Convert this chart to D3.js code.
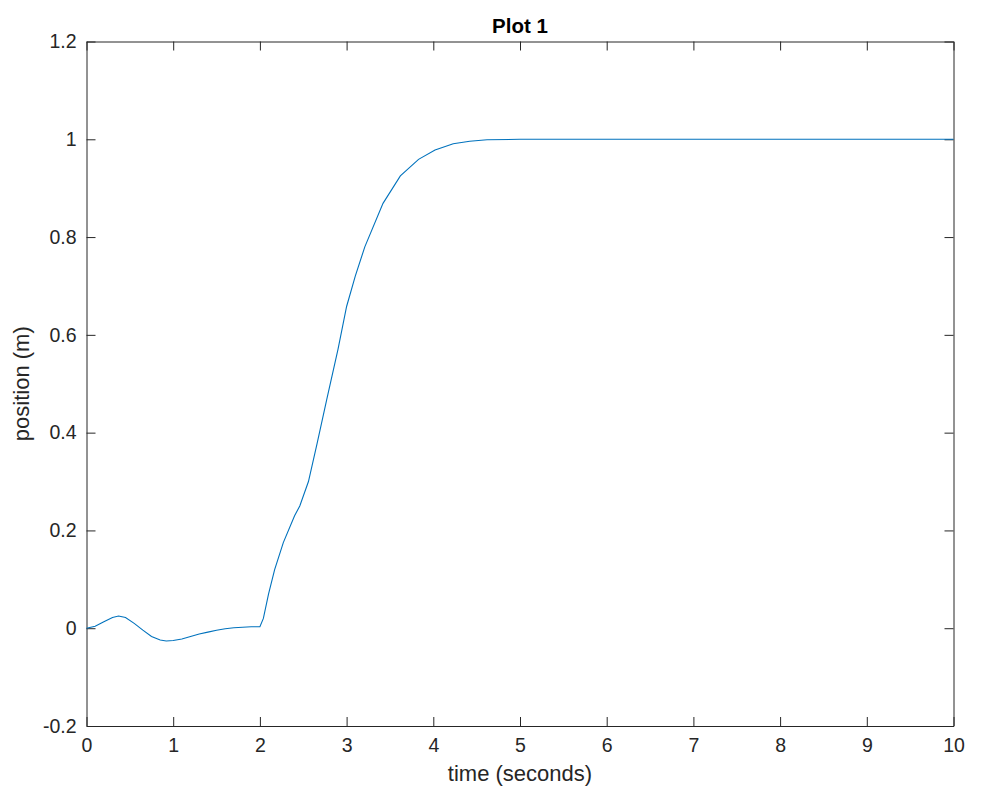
<!DOCTYPE html>
<html><head><meta charset="utf-8">
<script src="https://cdn.jsdelivr.net/npm/d3@7"></script>
<style>body{margin:0;background:#fff}svg{display:block}text{font-family:"Liberation Sans",Arial,Helvetica,sans-serif}</style>
</head><body>
<svg id="c" width="998" height="798"></svg>
<script>
const title = "Plot 1";
const xLabel = "time (seconds)";
const yLabel = "position (m)";
const xTicks = [0,1,2,3,4,5,6,7,8,9,10];
const yTicks = [-0.2,0,0.2,0.4,0.6,0.8,1,1.2];
const time = [0,0.1,0.2,0.3,0.37,0.45,0.55,0.65,0.75,0.85,0.92,1.0,1.1,1.2,1.3,1.4,1.5,1.6,1.7,1.8,1.9,2.0,2.04,2.1,2.17,2.27,2.4,2.46,2.56,2.66,2.77,2.9,3.0,3.1,3.21,3.42,3.62,3.83,4.02,4.23,4.42,4.62,5.0,6,7,8,9,10];
const position = [0,0.004,0.013,0.022,0.025,0.022,0.01,-0.004,-0.017,-0.024,-0.026,-0.025,-0.022,-0.017,-0.012,-0.008,-0.004,-0.001,0.001,0.002,0.003,0.003,0.02,0.07,0.12,0.175,0.23,0.25,0.30,0.378,0.467,0.57,0.658,0.72,0.78,0.869,0.925,0.959,0.978,0.991,0.996,0.999,1.0,1.0,1.0,1.0,1.0,1.0];

const L=86.5,R=953.5,T=41.5,B=726;
const svg=d3.select("#c");
const x=d3.scaleLinear().domain([0,10]).range([L,R]);
const y=d3.scaleLinear().domain([-0.2,1.2]).range([B,T]);
const fmt=d=>String(+d.toFixed(1));

const axB=svg.append("g").attr("transform",`translate(0,${B})`).call(d3.axisBottom(x).tickValues(xTicks).tickFormat(fmt).tickSizeInner(-9).tickSizeOuter(0).tickPadding(12));
const axT=svg.append("g").attr("transform",`translate(0,${T})`).call(d3.axisTop(x).tickValues(xTicks).tickFormat("").tickSizeInner(-9).tickSizeOuter(0));
const axL=svg.append("g").attr("transform",`translate(${L},0)`).call(d3.axisLeft(y).tickValues(yTicks).tickFormat(fmt).tickSizeInner(-9).tickSizeOuter(0).tickPadding(10));
const axR=svg.append("g").attr("transform",`translate(${R},0)`).call(d3.axisRight(y).tickValues(yTicks).tickFormat("").tickSizeInner(-9).tickSizeOuter(0));
[axB,axT,axL,axR].forEach(g=>{
  g.selectAll("path,line").attr("stroke","#262626").attr("stroke-width",1);
  g.selectAll("text").attr("font-size",19.5).attr("fill","#262626").attr("font-family","Liberation Sans,Arial,sans-serif");
});
axB.selectAll("text").attr("dy","0.71em");

svg.append("path").datum(time.map((t,i)=>[t,position[i]]))
  .attr("fill","none").attr("stroke","#0072BD").attr("stroke-width",1.1)
  .attr("d",d3.line().x(d=>x(d[0])).y(d=>y(d[1])));

svg.append("text").attr("x",(L+R)/2).attr("y",32.5).attr("text-anchor","middle")
  .attr("font-size",20.5).attr("font-weight","bold").attr("fill","#000").text(title);
svg.append("text").attr("x",(L+R)/2).attr("y",781).attr("text-anchor","middle")
  .attr("font-size",22).attr("fill","#262626").text(xLabel);
svg.append("text").attr("transform",`translate(29,${(T+B)/2}) rotate(-90)`).attr("text-anchor","middle")
  .attr("font-size",22).attr("fill","#262626").text(yLabel);
</script>
</body></html>
